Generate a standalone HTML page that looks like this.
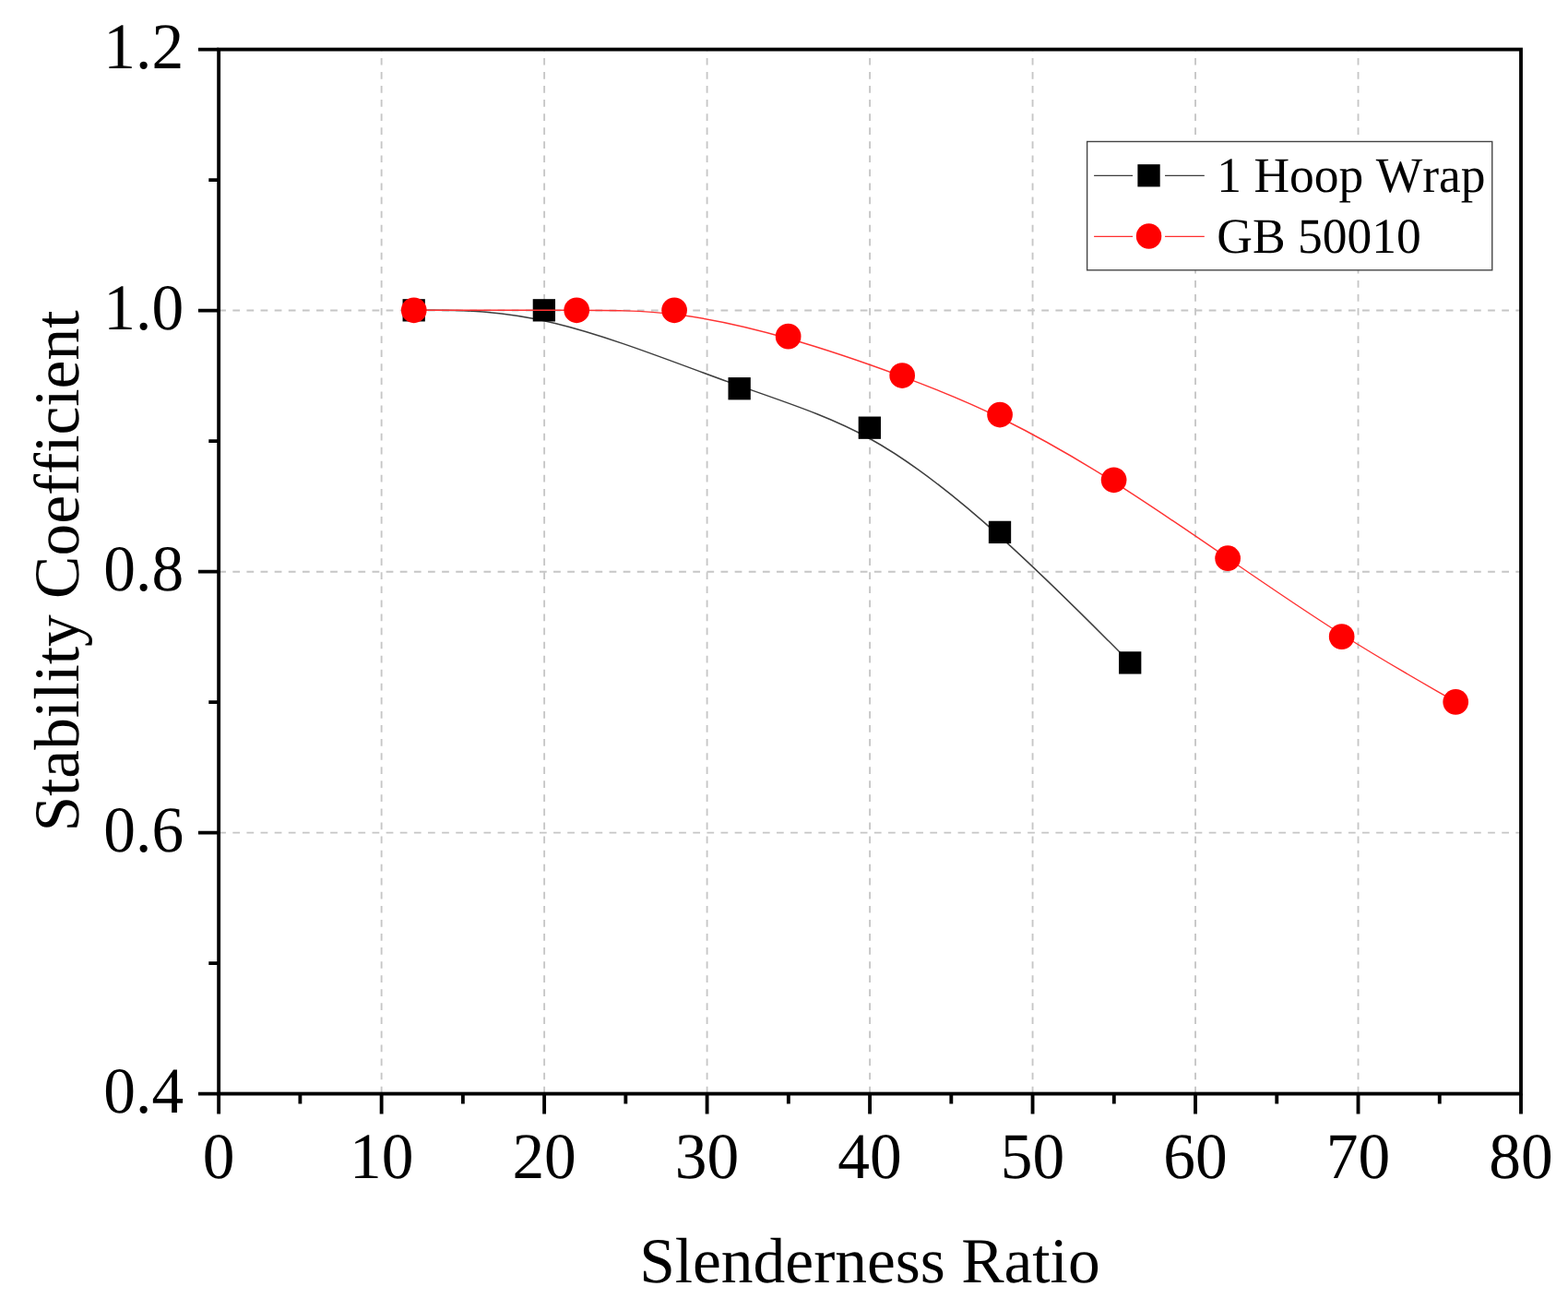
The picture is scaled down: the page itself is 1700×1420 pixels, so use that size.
<!DOCTYPE html>
<html lang="en">
<head>
<meta charset="utf-8">
<title>Stability Coefficient vs Slenderness Ratio</title>
<style>
html,body{margin:0;padding:0;background:#fff;}
body{width:1700px;height:1420px;overflow:hidden;}
svg{display:block;}
svg text{font-family:"Liberation Serif","Times New Roman",serif;fill:#000;font-variant-ligatures:none;font-kerning:none;text-rendering:geometricPrecision;}
.tick{font-size:69.44px;}
.leg{font-size:53.5px;}
</style>
</head>
<body>
<svg width="1700" height="1420" viewBox="0 0 1700 1420">
<rect width="1700" height="1420" fill="#fff"/>
<g fill="none" stroke="#c6c6c6" stroke-width="1.85" stroke-dasharray="7.7 7.365">
<path d="M413.63,1185.43V53.58"/>
<path d="M590.11,1185.43V53.58"/>
<path d="M766.59,1185.43V53.58"/>
<path d="M943.07,1185.43V53.58"/>
<path d="M1119.56,1185.43V53.58"/>
<path d="M1296.04,1185.43V53.58"/>
<path d="M1472.52,1185.43V53.58"/>
<path stroke-dasharray="7.75 7.37" d="M237.2,902.63H1649"/>
<path stroke-dasharray="7.75 7.37" d="M237.2,619.73H1649"/>
<path stroke-dasharray="7.75 7.37" d="M237.2,336.5H1649"/>
</g>
<path d="M448.93,336.32C448.93,336.32 448.93,336.32 472.46,336.32C495.99,336.32 543.05,336.32 601.88,350.48C660.7,364.63 731.3,392.93 790.12,414.16C848.95,435.38 896.01,449.54 943.07,475.48C990.14,501.42 1037.2,539.16 1084.26,581.61C1131.32,624.07 1178.38,671.24 1201.91,694.82C1225.44,718.41 1225.44,718.41 1225.44,718.41" fill="none" stroke="#3e3e3e" stroke-width="1.5"/>
<g fill="#000">
<rect x="436.53" y="324.18" width="24.3" height="24.3"/>
<rect x="577.71" y="324.18" width="24.3" height="24.3"/>
<rect x="789.49" y="409.08" width="24.3" height="24.3"/>
<rect x="930.67" y="451.54" width="24.3" height="24.3"/>
<rect x="1071.86" y="564.75" width="24.3" height="24.3"/>
<rect x="1213.04" y="706.26" width="24.3" height="24.3"/>
</g>
<path d="M448.93,336.32C448.93,336.32 448.93,336.32 478.34,336.32C507.75,336.32 566.58,336.32 613.64,336.32C660.71,336.32 696,336.32 734.24,341.04C772.48,345.76 813.66,355.19 854.83,366.99C896.01,378.78 937.19,392.93 975.43,407.08C1013.67,421.23 1048.96,435.38 1087.2,454.25C1125.44,473.12 1166.62,496.71 1207.8,522.65C1248.98,548.59 1290.15,576.9 1331.33,605.2C1372.51,633.5 1413.69,661.8 1454.87,687.75C1496.05,713.69 1537.23,737.28 1557.82,749.07C1578.41,760.86 1578.41,760.86 1578.41,760.86" fill="none" stroke="#ff3232" stroke-width="1.4"/>
<g fill="#f00">
<circle cx="448.73" cy="336.32" r="13.85"/>
<circle cx="625.21" cy="336.32" r="13.85"/>
<circle cx="731.1" cy="336.32" r="13.85"/>
<circle cx="854.63" cy="364.63" r="13.85"/>
<circle cx="978.17" cy="407.08" r="13.85"/>
<circle cx="1084.06" cy="449.53" r="13.85"/>
<circle cx="1207.6" cy="520.29" r="13.85"/>
<circle cx="1331.13" cy="605.2" r="13.85"/>
<circle cx="1454.67" cy="690.11" r="13.85"/>
<circle cx="1578.21" cy="760.86" r="13.85"/>
</g>
<g fill="none" stroke="#000" stroke-width="3.85">
<rect x="237.15" y="53.58" width="1411.85" height="1132"/>
<path d="M237.15,1185.58v22M325.39,1185.58v10.8M413.63,1185.58v22M501.87,1185.58v10.8M590.11,1185.58v22M678.35,1185.58v10.8M766.59,1185.58v22M854.83,1185.58v10.8M943.07,1185.58v22M1031.32,1185.58v10.8M1119.56,1185.58v22M1207.8,1185.58v10.8M1296.04,1185.58v22M1384.28,1185.58v10.8M1472.52,1185.58v22M1560.76,1185.58v10.8M1649,1185.58v22M237.15,1185.58h-22.2M237.15,1044.08h-10.85M237.15,902.58h-22.2M237.15,761.08h-10.85M237.15,619.58h-22.2M237.15,478.08h-10.85M237.15,336.58h-22.2M237.15,195.08h-10.85M237.15,53.58h-22.2"/>
</g>
<g class="tick" text-anchor="end">
<text transform="translate(199.1,74) scale(1,1.018)">1.2</text>
<text transform="translate(199.1,357) scale(1,1.018)">1.0</text>
<text transform="translate(199.1,640) scale(1,1.018)">0.8</text>
<text transform="translate(199.1,923) scale(1,1.018)">0.6</text>
<text transform="translate(199.1,1206) scale(1,1.018)">0.4</text>
</g>
<g class="tick" text-anchor="middle">
<text transform="translate(237.15,1277) scale(1,1.018)">0</text>
<text transform="translate(413.63,1277) scale(1,1.018)">10</text>
<text transform="translate(590.11,1277) scale(1,1.018)">20</text>
<text transform="translate(766.59,1277) scale(1,1.018)">30</text>
<text transform="translate(943.07,1277) scale(1,1.018)">40</text>
<text transform="translate(1119.56,1277) scale(1,1.018)">50</text>
<text transform="translate(1296.04,1277) scale(1,1.018)">60</text>
<text transform="translate(1472.52,1277) scale(1,1.018)">70</text>
<text transform="translate(1649,1277) scale(1,1.018)">80</text>
<text x="942.9" y="1390">Slenderness Ratio</text>
<text transform="translate(84.5,901.6) rotate(-90)" text-anchor="start">Stability Coefficient</text>
</g>
<rect x="1178.62" y="153.47" width="439.14" height="139.35" fill="#fff" stroke="#444" stroke-width="1.39"/>
<path d="M1186.1,190.37H1305.8" stroke="#3c3c3c" stroke-width="1.25"/>
<rect x="1228.05" y="186.3" width="35" height="8" fill="#fff"/>
<rect x="1233.4" y="178.15" width="24.3" height="24.3" fill="#000"/>
<path d="M1186.1,256.27H1305.8" stroke="#ff3030" stroke-width="1.25"/>
<rect x="1228.05" y="252.05" width="35" height="8" fill="#fff"/>
<circle cx="1245.55" cy="256.05" r="13.75" fill="#f00"/>
<g class="leg">
<text transform="translate(1319.3,208) scale(1,1.01)">1 Hoop Wrap</text>
<text transform="translate(1319.3,274) scale(1,1.01)">GB 50010</text>
</g>
</svg>
</body>
</html>
